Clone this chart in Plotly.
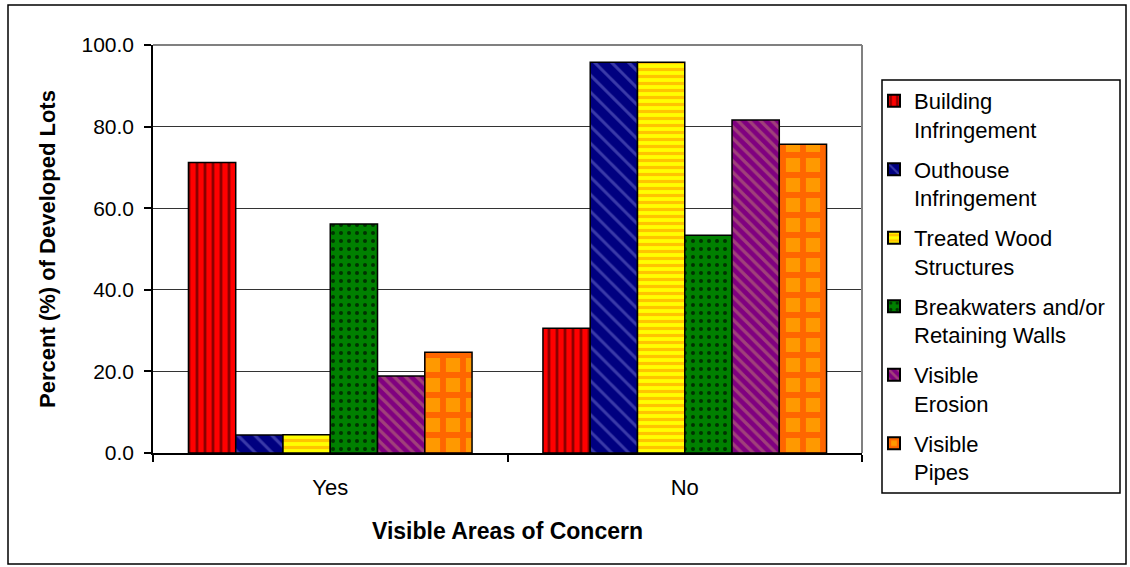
import plotly.graph_objects as go

categories = ["Yes", "No"]
series_names = [
    "Building<br>Infringement",
    "Outhouse<br>Infringement",
    "Treated Wood<br>Structures",
    "Breakwaters and/or<br>Retaining Walls",
    "Visible<br>Erosion",
    "Visible<br>Pipes",
]
building = [71.2, 30.6]
outhouse = [4.4, 95.8]
treated = [4.5, 95.8]
breakwaters = [56.1, 53.4]
erosion = [18.9, 81.6]
pipes = [24.7, 75.7]
series_values = [building, outhouse, treated, breakwaters, erosion, pipes]
y_ticks = [0, 20, 40, 60, 80, 100]

styles = [
    dict(bg="#FF0000", fg="#8B0000", shape="|", size=8, solidity=0.35),
    dict(bg="#000080", fg="#3A3AA8", shape="\\", size=12, solidity=0.25),
    dict(bg="#FFFF00", fg="#FFC400", shape="-", size=7, solidity=0.45),
    dict(bg="#008000", fg="#003300", shape=".", size=8, solidity=0.2),
    dict(bg="#800080", fg="#A0407A", shape="\\", size=8, solidity=0.4),
    dict(bg="#FF9900", fg="#FF6600", shape="+", size=20, solidity=0.5),
]

FONT = "Arial, Liberation Sans, sans-serif"

W, H = 1130, 567
L, R, T, B = 153, 862, 45, 453
pw, ph = R - L, B - T

def px(x):
    return (x - L) / pw

def py(y):
    return (B - y) / ph

legend_ids = ["legend"] + [f"legend{i}" for i in range(2, len(series_names) + 1)]

fig = go.Figure()
for i, (name, vals, st) in enumerate(zip(series_names, series_values, styles)):
    fig.add_trace(go.Bar(
        x=categories, y=vals, name=name, legend=legend_ids[i], showlegend=True,
        marker=dict(
            color=st["bg"],
            line=dict(color="black", width=1.5),
            pattern=dict(shape=st["shape"], fillmode="replace", bgcolor=st["bg"],
                         fgcolor=st["fg"], size=st["size"], solidity=st["solidity"],
                         fgopacity=1),
        ),
    ))

legend_layout = {}
for i, lid in enumerate(legend_ids):
    legend_layout[lid] = dict(
        x=px(874), y=py(80 + i * 68.5), xanchor="left", yanchor="top",
        bgcolor="rgba(0,0,0,0)", borderwidth=0,
        font=dict(family=FONT, size=22, color="black"),
        valign="top", itemsizing="constant",
    )

fig.update_layout(
    width=W, height=H,
    showlegend=True,
    margin=dict(l=L, r=W - R, t=T, b=H - B, autoexpand=False),
    paper_bgcolor="white", plot_bgcolor="white",
    barmode="group", bargap=0.2, bargroupgap=0,
    font=dict(family=FONT, size=22, color="black"),
    xaxis=dict(
        type="category", showline=True, linecolor="black", linewidth=1.5,
        ticks="outside", ticklen=7, tickcolor="black", tickwidth=1.5,
        tickson="boundaries", showgrid=False, ticklabelstandoff=14,
        tickfont=dict(family=FONT, size=22),
        title=dict(text="<b>Visible Areas of Concern</b>", standoff=24,
                   font=dict(family=FONT, size=23)),
        automargin=False,
    ),
    yaxis=dict(
        range=[0, 100], tickvals=y_ticks, tickformat=".1f",
        showline=True, linecolor="black", linewidth=1.5,
        ticks="outside", ticklen=7, tickcolor="black", tickwidth=1.5,
        showgrid=True, gridcolor="#333333", gridwidth=1.2,
        zeroline=False, ticklabelstandoff=6,
        tickfont=dict(family=FONT, size=21),
        title=dict(text="<b>Percent (%) of Developed Lots</b>", standoff=20,
                   font=dict(family=FONT, size=22)),
        automargin=False,
    ),
    shapes=[
        dict(type="line", xref="paper", yref="paper", x0=0, x1=1, y0=1, y1=1,
             line=dict(color="#808080", width=2)),
        dict(type="line", xref="paper", yref="paper", x0=1, x1=1, y0=0, y1=1,
             line=dict(color="#808080", width=2)),
        dict(type="rect", xref="paper", yref="paper",
             x0=px(882), x1=px(1120), y0=py(493), y1=py(80),
             line=dict(color="black", width=1.5), fillcolor="rgba(0,0,0,0)"),
        dict(type="rect", xref="paper", yref="paper",
             x0=px(8), x1=px(1126), y0=py(564), y1=py(5),
             line=dict(color="black", width=1.5), fillcolor="rgba(0,0,0,0)"),
    ],
    **legend_layout,
)

fig.write_html("out.html", config={"displayModeBar": False},
               post_script="document.body.style.margin='0';")
